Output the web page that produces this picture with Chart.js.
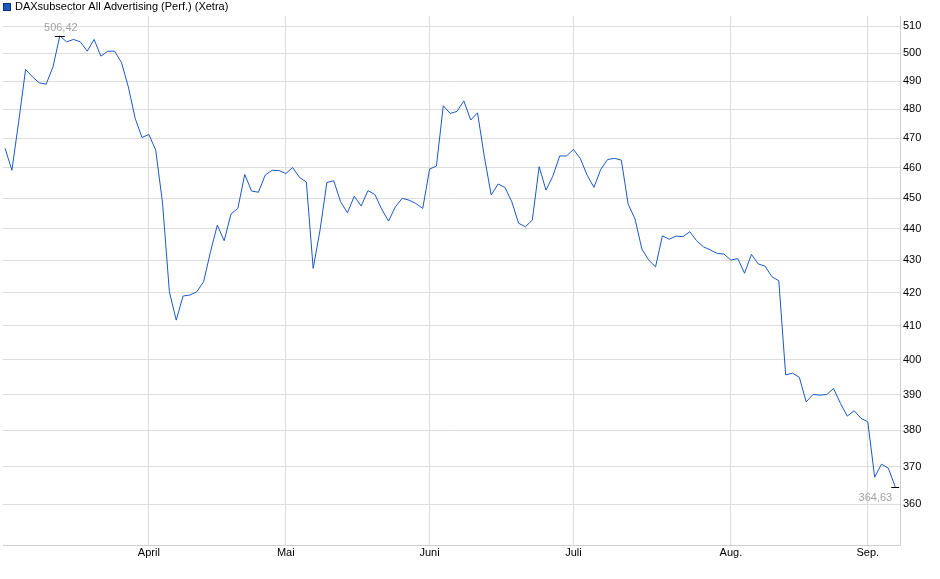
<!DOCTYPE html>
<html>
<head>
<meta charset="utf-8">
<title>DAXsubsector All Advertising</title>
<script src="https://cdn.jsdelivr.net/npm/chart.js@4.4.1/dist/chart.umd.min.js"></script>
<style>
  html, body { margin: 0; padding: 0; background: #fff; }
  #wrap { width: 940px; height: 579px; position: relative; }
</style>
</head>
<body>
<div id="wrap"><canvas id="chart"></canvas></div>
<script>
// Kursverlauf, ein Wert pro Handelstag (3. März bis Anfang September)
const values = [
  466.6, 459.2, 475.9, 494.2, 491.5, 489.4, 488.9, 495.1, 506.42, 504.2,
  505.1, 504.2, 500.8, 505.1, 499.0, 500.8, 500.8, 496.7, 488.0, 476.9,
  470.3, 471.3, 466.0, 448.4, 420.3, 411.7, 419.0, 419.3, 420.3, 423.4,
  432.7, 441.2, 436.2, 444.8, 446.6, 457.8, 452.3, 451.9, 457.6, 459.2,
  459.1, 458.1, 460.1, 456.8, 455.3, 427.5, 439.6, 455.1, 455.7, 448.8,
  445.2, 450.6, 447.4, 452.4, 451.2, 446.4, 442.5, 447.1, 449.9, 449.3,
  448.2, 446.6, 459.6, 460.6, 481.3, 478.6, 479.3, 483.0, 476.3, 478.8,
  463.7, 451.0, 454.6, 453.5, 448.8, 441.8, 440.7, 442.8, 460.4, 452.6,
  457.2, 464.0, 464.0, 466.2, 463.2, 457.6, 453.5, 459.5, 462.8, 463.2,
  462.6, 448.0, 443.2, 433.6, 430.1, 428.0, 437.8, 436.7, 437.7, 437.5,
  439.1, 436.2, 434.3, 433.3, 432.2, 432.0, 430.1, 430.6, 426.0, 431.9,
  428.9, 428.2, 424.9, 423.7, 395.6, 396.1, 394.9, 387.9, 390.0, 389.8,
  390.0, 391.7, 387.5, 383.9, 385.4, 383.3, 382.3, 367.2, 370.7, 369.6,
  364.63
];

// Monatsanfang = Index des ersten Handelstags im Monat
const monthLabels = ["April", "Mai", "Juni", "Juli", "Aug.", "Sep."];
const monthStart = [21, 41, 62, 83, 106, 126];

const yTicks = [360, 370, 380, 390, 400, 410, 420, 430, 440, 450, 460, 470, 480, 490, 500, 510];

const seriesName = "DAXsubsector All Advertising (Perf.) (Xetra)";

const FONT = "'Liberation Sans', Arial, sans-serif";
const lineColor = "#1c58c6";
const gridColor = "#dddddd";

const fmt = v => v.toFixed(2).replace(".", ",");

// Legende oben links (Kästchen + Name)
const legendBox = {
  id: "legendBox",
  afterDraw(chart) {
    const ctx = chart.ctx;
    ctx.save();
    ctx.fillStyle = lineColor;
    ctx.fillRect(3, 3, 8, 8);
    ctx.strokeStyle = "#0d2f73";
    ctx.lineWidth = 1;
    ctx.strokeRect(3.5, 3.5, 7, 7);
    ctx.fillStyle = "#000";
    ctx.font = "11px " + FONT;
    ctx.textAlign = "left";
    ctx.textBaseline = "middle";
    ctx.fillText(seriesName, 15, 7);
    ctx.restore();
  }
};

// Markierung für Hoch und letzten Kurs
const markers = {
  id: "markers",
  afterDatasetsDraw(chart) {
    const ctx = chart.ctx;
    const xs = chart.scales.x;
    const ys = chart.scales.y;
    const maxIdx = values.indexOf(Math.max(...values));
    const lastIdx = values.length - 1;

    ctx.save();
    ctx.strokeStyle = "#000";
    ctx.lineWidth = 1;
    ctx.font = "11px " + FONT;
    ctx.fillStyle = "#a3a3a3";

    let px = xs.getPixelForValue(maxIdx);
    let py = Math.round(ys.getPixelForValue(values[maxIdx])) + 0.5;
    ctx.beginPath();
    ctx.moveTo(px - 5, py);
    ctx.lineTo(px + 5, py);
    ctx.stroke();
    ctx.textAlign = "center";
    ctx.textBaseline = "bottom";
    ctx.fillText(fmt(values[maxIdx]), px + 1, py - 3);

    px = xs.getPixelForValue(lastIdx);
    py = Math.round(ys.getPixelForValue(values[lastIdx])) + 0.5;
    ctx.beginPath();
    ctx.moveTo(px - 4, py);
    ctx.lineTo(px + 4, py);
    ctx.stroke();
    ctx.textAlign = "right";
    ctx.textBaseline = "top";
    ctx.fillText(fmt(values[lastIdx]), px - 3, py + 5);
    ctx.restore();
  }
};

const points = values.map((v, i) => ({ x: i, y: v }));

new Chart(document.getElementById("chart"), {
  type: "line",
  data: {
    datasets: [{
      label: seriesName,
      data: points,
      borderColor: lineColor,
      backgroundColor: lineColor,
      borderWidth: 1,
      pointRadius: 0,
      tension: 0
    }]
  },
  options: {
    responsive: true,
    maintainAspectRatio: false,
    animation: false,
    devicePixelRatio: 1,
    layout: { padding: { left: 3, right: 0, top: 16, bottom: 0 } },
    plugins: {
      legend: { display: false },
      tooltip: { enabled: false }
    },
    scales: {
      x: {
        type: "linear",
        min: -0.3,
        max: 130.7,
        grid: { color: gridColor, drawTicks: false },
        border: { color: "#cfcfcf" },
        afterBuildTicks: scale => {
          scale.ticks = monthStart.map(v => ({ value: v }));
        },
        afterFit: scale => { scale.height = 34; },
        ticks: {
          autoSkip: false,
          maxRotation: 0,
          padding: 1,
          color: "#000",
          font: { family: FONT, size: 11 },
          callback: v => monthLabels[monthStart.indexOf(v)]
        }
      },
      y: {
        type: "logarithmic",
        position: "right",
        min: 349.5,
        max: 513.8,
        grid: { color: gridColor, drawTicks: false },
        border: { color: "#cfcfcf" },
        afterBuildTicks: scale => {
          scale.ticks = yTicks.map(v => ({ value: v }));
        },
        afterFit: scale => { scale.width = 40; },
        ticks: {
          padding: 3,
          color: "#000",
          font: { family: FONT, size: 11 },
          callback: v => String(v)
        }
      }
    }
  },
  plugins: [markers, legendBox]
});
</script>
</body>
</html>
